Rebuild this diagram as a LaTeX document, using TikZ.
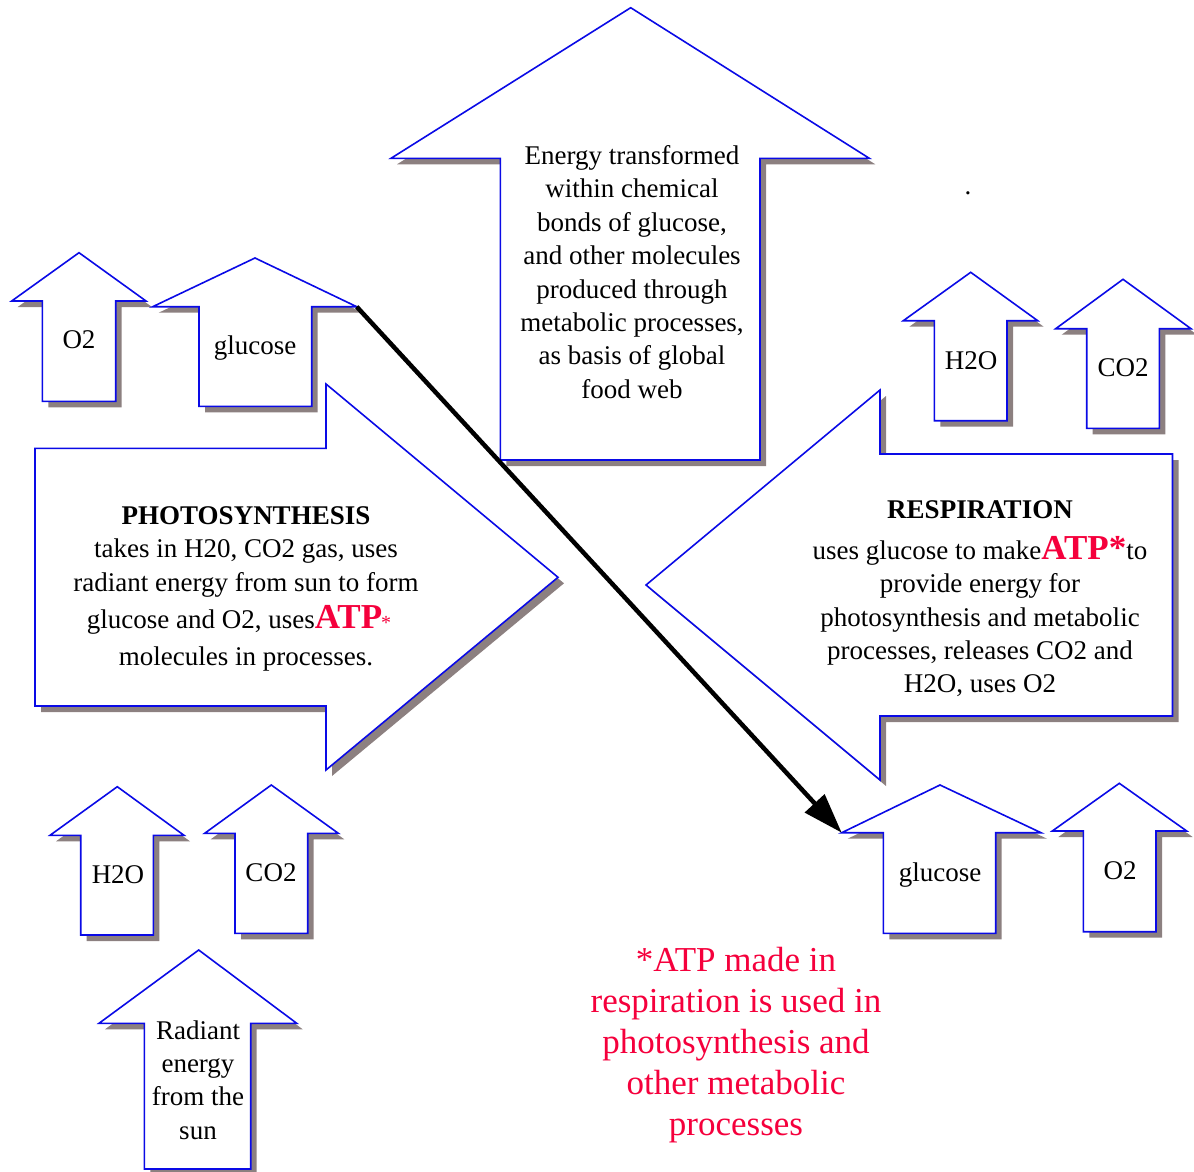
\documentclass[tikz,border=0pt]{standalone}
\usepackage{fontspec}
\setmainfont{Liberation Serif}
\usetikzlibrary{arrows.meta}
\definecolor{arrowblue}{RGB}{10,10,230}
\definecolor{shadowgray}{RGB}{140,128,128}
\definecolor{atpred}{RGB}{245,0,60}
\tikzset{
  arrowline/.style={draw=arrowblue, line width=1.6pt, fill=white, line join=miter},
  shadowfill/.style={fill=shadowgray},
  lbl/.style={font=\fontsize{27}{33.4}\selectfont, align=center, inner sep=0pt},
  redlbl/.style={font=\fontsize{35}{41}\selectfont, text=atpred, align=center, inner sep=0pt},
  connector/.style={line width=4.5pt, -{Triangle[length=40pt,width=26pt]}},
}
% name, tipx, tipy, headbase y, head left x, head right x, shaft left x, shaft right x, bottom y
\newcommand\upArrowShape[9]{%
  \fill[shadowfill, shift={(6,6)}] (#2,#3) -- (#6,#4) -- (#8,#4) -- (#8,#9) -- (#7,#9) -- (#7,#4) -- (#5,#4) -- cycle;
  \filldraw[arrowline] (#2,#3) -- (#6,#4) -- (#8,#4) -- (#8,#9) -- (#7,#9) -- (#7,#4) -- (#5,#4) -- cycle;
  \coordinate (#1-hl) at (#5,#4);
  \coordinate (#1-hr) at (#6,#4);
}
\newcommand\atpbig{\textcolor{atpred}{\fontsize{35}{33}\selectfont\bfseries ATP}}
\newcommand\atpstarbig{\textcolor{atpred}{\fontsize{35}{33}\selectfont\bfseries ATP*}}
\begin{document}
\begin{tikzpicture}[x=1pt, y=-1pt]
\useasboundingbox (0,0) rectangle (1194,1172);

% big top arrow
\upArrowShape{top}{630.7}{7.7}{158.3}{391}{869.3}{500.3}{760}{460}
% small arrows top left
\upArrowShape{oxyL}{79}{252.7}{301}{11.7}{146}{42.3}{115.7}{401.3}
\upArrowShape{glucL}{255}{258}{306.7}{152.7}{356.7}{199}{311.7}{406.3}
% small arrows top right
\upArrowShape{waterR}{970.7}{272.3}{320.7}{903.3}{1037.7}{934.3}{1007}{420.7}
\upArrowShape{carbR}{1123}{279.3}{328.7}{1055.7}{1191}{1086.7}{1159.3}{428.3}
% bottom left
\upArrowShape{waterL}{117.3}{786.7}{835.3}{50}{184}{80.7}{153.3}{935}
\upArrowShape{carbL}{271.3}{785}{833.3}{204.7}{338.3}{235}{307.7}{933.3}
\upArrowShape{sun}{198.7}{950}{1023.3}{99}{296.7}{144.3}{250.7}{1169}
% bottom right
\upArrowShape{glucR}{940}{785}{832.7}{841.7}{1041}{883.3}{995.7}{933.3}
\upArrowShape{oxyR}{1119.3}{783.3}{831}{1052.3}{1186.7}{1083.3}{1156}{931.7}

% photosynthesis arrow (right)
\fill[shadowfill, shift={(6,6)}] (35,448.3) -- (326,448.3) -- (326,384) -- (558,577.3) -- (326,770) -- (326,706) -- (35,706) -- cycle;
\filldraw[arrowline] (35,448.3) -- (326,448.3) -- (326,384) -- (558,577.3) -- (326,770) -- (326,706) -- (35,706) -- cycle;
% respiration arrow (left)
\fill[shadowfill, shift={(6,6)}] (1172.5,454) -- (880,454) -- (880,390) -- (646,585) -- (880,780) -- (880,716) -- (1172.5,716) -- cycle;
\filldraw[arrowline] (1172.5,454) -- (880,454) -- (880,390) -- (646,585) -- (880,780) -- (880,716) -- (1172.5,716) -- cycle;

% texts
\node[lbl] (toptext) at (632,272) {Energy transformed\\ within chemical\\ bonds of glucose,\\ and other molecules\\ produced through\\ metabolic processes,\\ as basis of global\\ food web};
\node[lbl] (oxyLtext) at (79,340) {O2};
\node[lbl] (glucLtext) at (255,348) {glucose};
\node[lbl] (waterRtext) at (971,361) {H2O};
\node[lbl] (carbRtext) at (1123,368) {CO2};
\node[lbl] (dot) at (968,193) {.};
\node[lbl] (phototext) at (246,589) {\textbf{PHOTOSYNTHESIS}\\ takes in H20, CO2 gas, uses\\ radiant energy from sun to form\\[4pt] glucose and O2, uses\atpbig\kern-1pt\raisebox{-1pt}{\textcolor{atpred}{\fontsize{20}{20}\selectfont *}}\rule{14pt}{0pt}\\[4pt] molecules in processes.};
\node[lbl] (resptext) at (980,599) {\textbf{RESPIRATION}\\[7pt] uses glucose to make\atpstarbig to\\ provide energy for\\ photosynthesis and metabolic\\ processes, releases CO2 and\\ H2O, uses O2};
\node[lbl] (waterLtext) at (118,875) {H2O};
\node[lbl] (carbLtext) at (271,873) {CO2};
\node[lbl] (suntext) at (198,1080) {Radiant\\ energy\\ from the\\ sun};
\node[lbl] (glucRtext) at (940,875) {glucose};
\node[lbl] (oxyRtext) at (1120,871) {O2};
\node[redlbl] (note) at (736,1045) {*ATP made in\\ respiration is used in\\ photosynthesis and\\ other metabolic\\ processes};

% connector
\draw[connector] (glucL-hr) -- (glucR-hl);
\end{tikzpicture}
\end{document}
